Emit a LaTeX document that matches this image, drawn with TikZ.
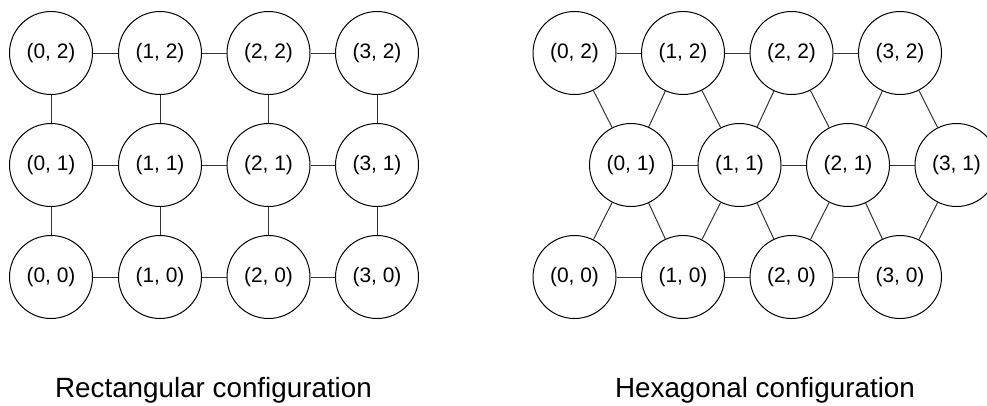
\documentclass[tikz,border=0pt]{standalone}
\usepackage{fontspec}
\setmainfont{Liberation Sans}
\tikzset{x=0.75pt, y=-0.75pt, % One unit is one pixel, y grows downwards
        site/.style={ % Sets the properties for each lattice site
            circle,
            draw,
            line width=0.75pt,
            fill=white,
            inner sep=0pt,
            minimum size=62.25pt,
            font=\fontsize{15.7pt}{18pt}\selectfont},
        caption/.style={ % Text under each lattice
            anchor=base,
            font=\fontsize{20.85pt}{24pt}\selectfont},
        every edge/.style={ % Sets the properties for each bond
            draw,
            line width=0.75pt,
            black!80}
        }
\begin{document}
\begin{tikzpicture}
    \useasboundingbox (0,0) rectangle (987,405);

    % rectangular lattice
    \node[site] (r02) at (51,53)    {(0, 2)};
    \node[site] (r12) at (160,53)   {(1, 2)};
    \node[site] (r22) at (268.5,53) {(2, 2)};
    \node[site] (r32) at (377,53)   {(3, 2)};
    \node[site] (r01) at (51,165)    {(0, 1)};
    \node[site] (r11) at (160,165)   {(1, 1)};
    \node[site] (r21) at (268.5,165) {(2, 1)};
    \node[site] (r31) at (377,165)   {(3, 1)};
    \node[site] (r00) at (51,277)    {(0, 0)};
    \node[site] (r10) at (160,277)   {(1, 0)};
    \node[site] (r20) at (268.5,277) {(2, 0)};
    \node[site] (r30) at (377,277)   {(3, 0)};

    \draw
        (r02) edge (r12) (r12) edge (r22) (r22) edge (r32)
        (r01) edge (r11) (r11) edge (r21) (r21) edge (r31)
        (r00) edge (r10) (r10) edge (r20) (r20) edge (r30)
        (r02) edge (r01) (r01) edge (r00)
        (r12) edge (r11) (r11) edge (r10)
        (r22) edge (r21) (r21) edge (r20)
        (r32) edge (r31) (r31) edge (r30);

    % hexagonal lattice
    \node[site] (h02) at (574.5,53) {(0, 2)};
    \node[site] (h12) at (683,53)   {(1, 2)};
    \node[site] (h22) at (791.5,53) {(2, 2)};
    \node[site] (h32) at (900,53)   {(3, 2)};
    \node[site] (h01) at (631,165)   {(0, 1)};
    \node[site] (h11) at (739.5,165) {(1, 1)};
    \node[site] (h21) at (848,165)   {(2, 1)};
    \node[site] (h31) at (956.5,165) {(3, 1)};
    \node[site] (h00) at (574.5,277) {(0, 0)};
    \node[site] (h10) at (683,277)   {(1, 0)};
    \node[site] (h20) at (791.5,277) {(2, 0)};
    \node[site] (h30) at (900,277)   {(3, 0)};

    \draw
        (h02) edge (h12) (h12) edge (h22) (h22) edge (h32)
        (h01) edge (h11) (h11) edge (h21) (h21) edge (h31)
        (h00) edge (h10) (h10) edge (h20) (h20) edge (h30)
        (h02) edge (h01) (h12) edge (h01) (h12) edge (h11)
        (h22) edge (h11) (h22) edge (h21) (h32) edge (h21)
        (h32) edge (h31)
        (h01) edge (h00) (h01) edge (h10) (h11) edge (h10)
        (h11) edge (h20) (h21) edge (h20) (h21) edge (h30)
        (h31) edge (h30);

    \node[caption] (rect) at (213.5,397) {Rectangular configuration};
    \node[caption] (hex)  at (765,397)   {Hexagonal configuration};
\end{tikzpicture}
\end{document}
